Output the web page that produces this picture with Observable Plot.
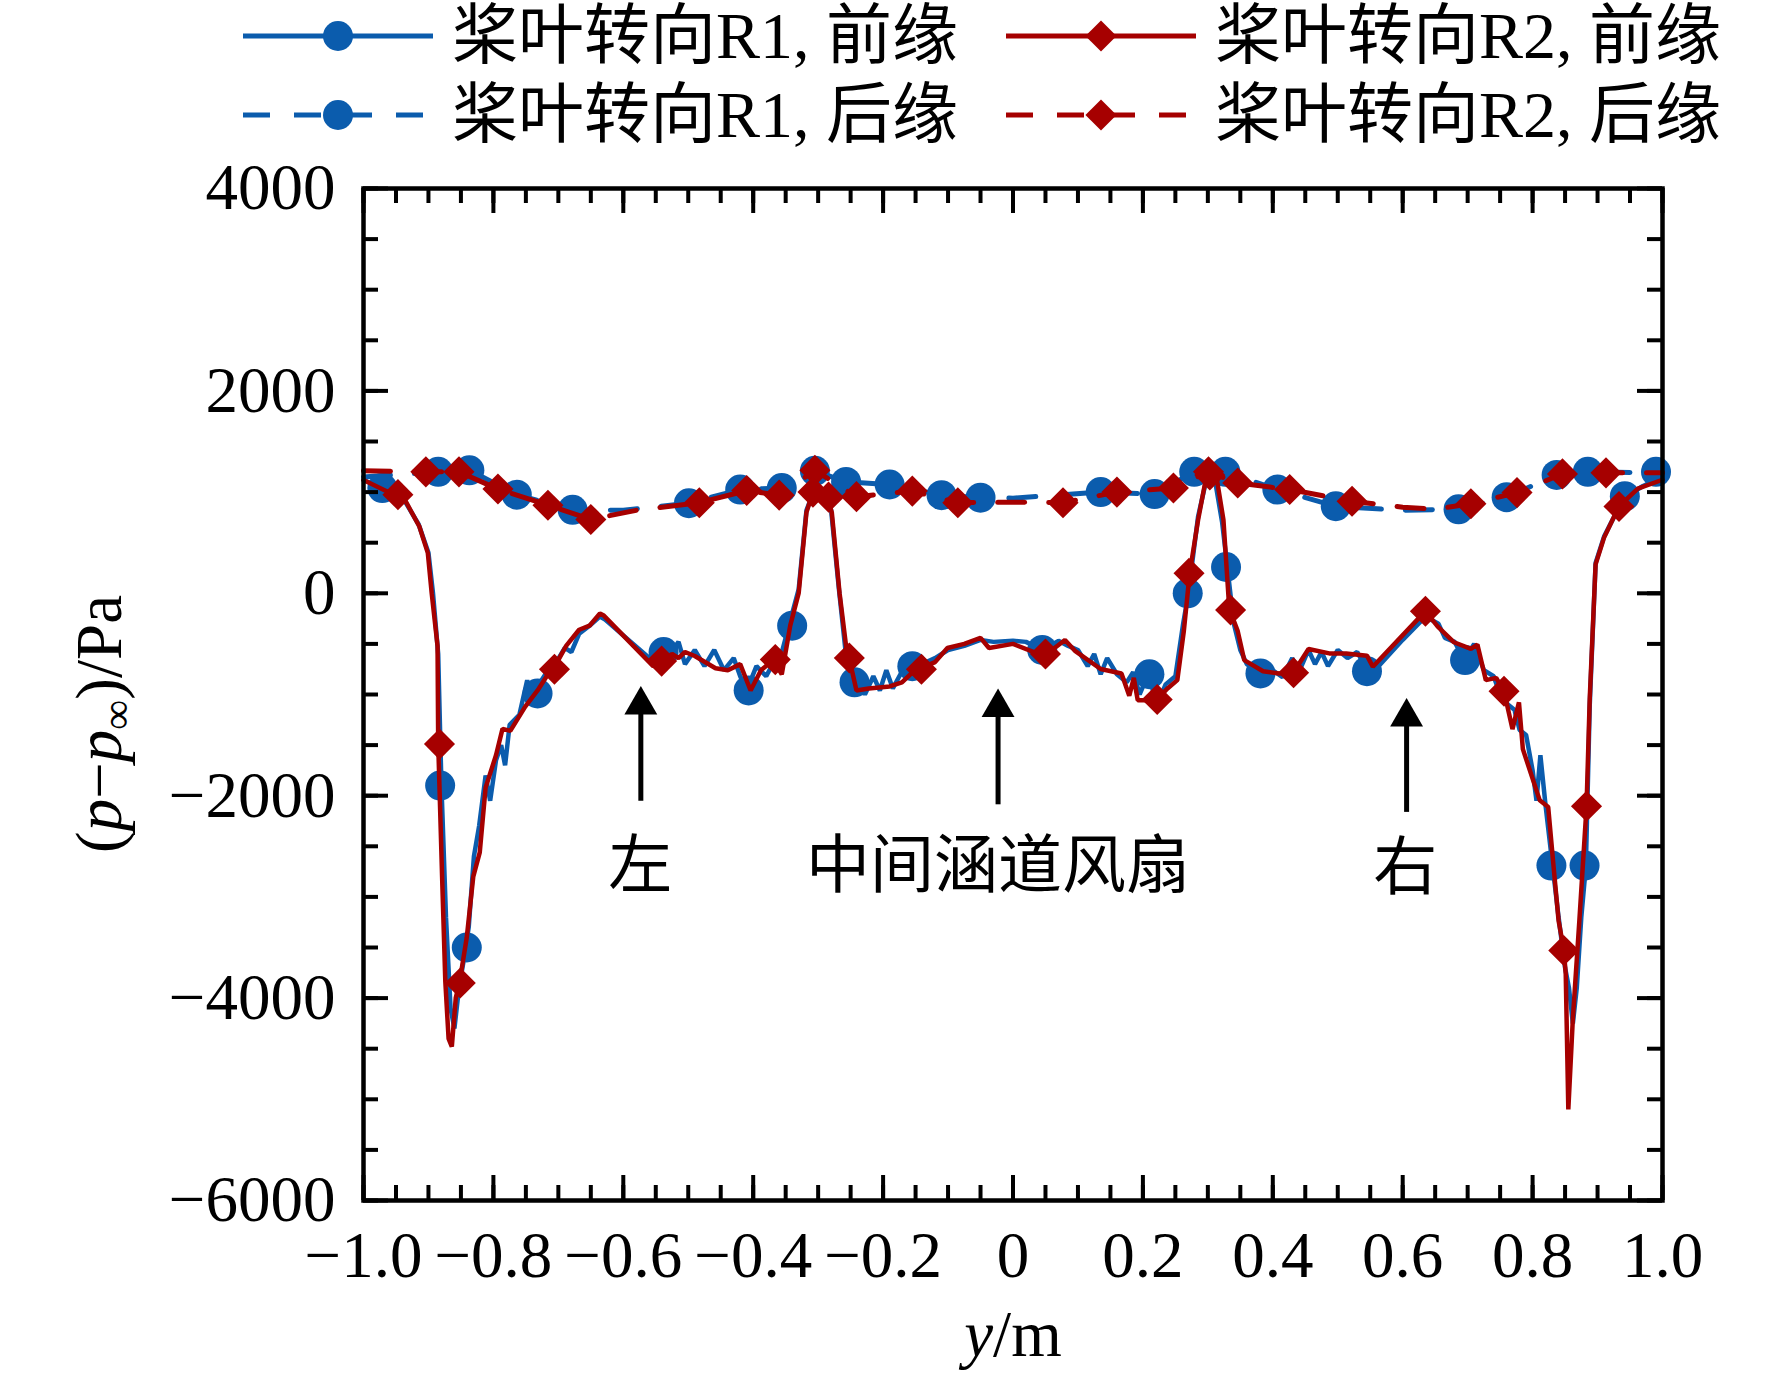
<!DOCTYPE html>
<html><head><meta charset="utf-8">
<script src="https://cdn.jsdelivr.net/npm/d3@7"></script>
<script src="https://cdn.jsdelivr.net/npm/@observablehq/plot@0.6"></script>
<style>
html,body{margin:0;padding:0;background:#fff;}
#wrap{width:1772px;height:1379px;position:relative;overflow:hidden;background:#fff;}
#legend svg,#chart svg{display:block;}
</style></head>
<body><div id="wrap"><div id="legend"></div><div id="chart"></div></div>
<script>
const blue = "#0b5cad";
const red = "#a60000";

// tick labels
const xMajorTicks = [-1, -0.8, -0.6, -0.4, -0.2, 0, 0.2, 0.4, 0.6, 0.8, 1];
const yMajorTicks = [-6000, -4000, -2000, 0, 2000, 4000];
const xMinorTicks = d3.range(-20, 21).map(i => i / 20);
const yMinorTicks = d3.range(-12, 9).map(i => i * 500);

// legend
const legendLabels = ["桨叶转向R1, 前缘", "桨叶转向R1, 后缘", "桨叶转向R2, 前缘", "桨叶转向R2, 后缘"];

// R1 leading edge (blue solid)
const r1LeadLine = [[-1.000,1120],[-0.940,950],[-0.915,680],[-0.900,400],[-0.893,0],[-0.885,-600],[-0.880,-1900],[-0.873,-3200],[-0.866,-4100],[-0.860,-4300],[-0.853,-3900],[-0.845,-3600],[-0.838,-3300],[-0.830,-2600],[-0.822,-2300],[-0.812,-1800],[-0.805,-2050],[-0.796,-1650],[-0.788,-1500],[-0.782,-1700],[-0.775,-1300],[-0.760,-1200],[-0.748,-860],[-0.740,-1050],[-0.730,-900],[-0.716,-760],[-0.705,-700],[-0.690,-540],[-0.680,-580],[-0.668,-400],[-0.652,-320],[-0.636,-230],[-0.628,-260],[-0.560,-640],[-0.545,-560],[-0.530,-620],[-0.515,-480],[-0.505,-700],[-0.490,-560],[-0.475,-720],[-0.460,-560],[-0.445,-760],[-0.430,-640],[-0.420,-820],[-0.410,-960],[-0.395,-720],[-0.380,-820],[-0.365,-640],[-0.355,-560],[-0.345,-320],[-0.330,40],[-0.318,820],[-0.305,1040],[-0.290,1000],[-0.280,820],[-0.268,40],[-0.258,-560],[-0.248,-900],[-0.238,-860],[-0.228,-1000],[-0.215,-820],[-0.205,-960],[-0.195,-760],[-0.185,-940],[-0.170,-760],[-0.155,-720],[-0.140,-700],[-0.120,-640],[-0.100,-560],[-0.075,-520],[-0.050,-460],[-0.030,-480],[0.000,-470],[0.020,-480],[0.045,-560],[0.070,-470],[0.085,-520],[0.100,-560],[0.115,-720],[0.125,-600],[0.135,-800],[0.145,-640],[0.160,-800],[0.175,-880],[0.185,-780],[0.195,-1000],[0.208,-800],[0.222,-1100],[0.235,-900],[0.250,-820],[0.262,-300],[0.270,0],[0.285,760],[0.298,1130],[0.312,1080],[0.322,700],[0.330,260],[0.340,-300],[0.350,-560],[0.360,-700],[0.380,-790],[0.400,-760],[0.415,-830],[0.430,-640],[0.440,-780],[0.455,-560],[0.465,-700],[0.475,-580],[0.485,-720],[0.500,-560],[0.515,-640],[0.530,-580],[0.545,-760],[0.560,-740],[0.600,-460],[0.635,-230],[0.655,-300],[0.665,-440],[0.680,-480],[0.695,-660],[0.710,-500],[0.725,-760],[0.740,-820],[0.750,-1000],[0.762,-1100],[0.772,-1150],[0.780,-1350],[0.790,-1400],[0.800,-1750],[0.806,-2050],[0.812,-1600],[0.820,-2100],[0.830,-2650],[0.840,-3200],[0.850,-3700],[0.856,-3900],[0.862,-4250],[0.868,-3900],[0.875,-3200],[0.882,-2700],[0.888,-1100],[0.897,300],[0.910,560],[0.940,940],[0.970,1060],[1.000,1150]];
const r1LeadMarks = [[-0.971,1040],[-0.882,-1900],[-0.841,-3500],[-0.732,-990],[-0.538,-580],[-0.407,-960],[-0.340,-320],[-0.244,-880],[-0.155,-720],[0.045,-560],[0.210,-800],[0.269,0],[0.328,260],[0.381,-792],[0.545,-770],[0.696,-660],[0.829,-2690],[0.880,-2690],[0.942,960]];

// R1 trailing edge (blue dashed)
const r1TrailLine = [[-1.000,1150],[-0.885,1200],[-0.837,1215],[-0.764,975],[-0.678,825],[-0.600,820],[-0.499,890],[-0.420,1025],[-0.356,1040],[-0.305,1210],[-0.257,1100],[-0.190,1075],[-0.110,970],[-0.050,945],[0.000,940],[0.135,1000],[0.218,980],[0.279,1200],[0.327,1200],[0.407,1025],[0.497,860],[0.600,820],[0.686,830],[0.760,950],[0.837,1170],[0.885,1200],[0.987,1190],[1.000,1190]];
const r1TrailMarks = [[-0.885,1200],[-0.837,1215],[-0.764,975],[-0.678,825],[-0.499,890],[-0.420,1025],[-0.356,1040],[-0.305,1210],[-0.257,1100],[-0.190,1075],[-0.110,970],[-0.050,945],[0.135,1000],[0.218,980],[0.279,1200],[0.327,1200],[0.407,1025],[0.497,860],[0.686,830],[0.760,950],[0.837,1170],[0.885,1200],[0.990,1200]];

// R2 leading edge (red solid)
const r2LeadLine = [[-1.000,1120],[-0.936,920],[-0.914,660],[-0.901,400],[-0.895,0],[-0.886,-520],[-0.885,-1480],[-0.879,-2800],[-0.874,-3840],[-0.869,-4400],[-0.864,-4480],[-0.858,-4000],[-0.852,-3840],[-0.841,-3400],[-0.831,-2800],[-0.821,-2560],[-0.812,-1920],[-0.796,-1600],[-0.786,-1340],[-0.774,-1360],[-0.751,-1120],[-0.732,-960],[-0.716,-800],[-0.707,-740],[-0.688,-520],[-0.668,-360],[-0.652,-320],[-0.636,-200],[-0.630,-220],[-0.554,-720],[-0.541,-680],[-0.525,-600],[-0.515,-640],[-0.505,-580],[-0.490,-620],[-0.458,-740],[-0.439,-760],[-0.420,-700],[-0.404,-960],[-0.388,-760],[-0.369,-660],[-0.356,-800],[-0.343,-320],[-0.330,0],[-0.318,800],[-0.308,1000],[-0.298,1000],[-0.286,940],[-0.279,800],[-0.267,0],[-0.257,-520],[-0.253,-620],[-0.241,-960],[-0.222,-940],[-0.190,-920],[-0.171,-880],[-0.158,-800],[-0.142,-740],[-0.120,-680],[-0.101,-540],[-0.075,-500],[-0.050,-440],[-0.037,-540],[0.000,-500],[0.048,-620],[0.080,-462],[0.096,-572],[0.135,-748],[0.167,-792],[0.179,-1012],[0.186,-836],[0.192,-1056],[0.221,-1056],[0.237,-946],[0.253,-858],[0.263,-374],[0.272,198],[0.285,726],[0.298,1166],[0.304,1188],[0.314,1122],[0.324,726],[0.333,-154],[0.346,-374],[0.356,-660],[0.385,-770],[0.410,-792],[0.433,-770],[0.455,-550],[0.487,-594],[0.513,-594],[0.545,-616],[0.554,-726],[0.635,-176],[0.654,-330],[0.679,-484],[0.705,-550],[0.715,-506],[0.728,-858],[0.744,-836],[0.756,-968],[0.769,-1342],[0.779,-1078],[0.785,-1540],[0.811,-2046],[0.824,-2112],[0.833,-2750],[0.840,-3234],[0.848,-3520],[0.851,-3760],[0.855,-5100],[0.862,-4200],[0.872,-3234],[0.883,-2112],[0.888,-1034],[0.897,286],[0.910,550],[0.933,858],[0.962,1034],[1.000,1122]];
const r2LeadMarks = [[-0.947,975],[-0.883,-1490],[-0.851,-3850],[-0.706,-750],[-0.541,-670],[-0.366,-655],[-0.308,1000],[-0.284,950],[-0.252,-640],[-0.141,-750],[0.050,-600],[0.222,-1050],[0.271,198],[0.303,1170],[0.335,-165],[0.432,-785],[0.635,-178],[0.756,-968],[0.848,-3530],[0.883,-2105],[0.933,858]];

// R2 trailing edge (red dashed)
const r2TrailLine = [[-1.000,1210],[-0.904,1200],[-0.853,1200],[-0.793,1030],[-0.716,870],[-0.650,730],[-0.580,820],[-0.483,895],[-0.410,1015],[-0.360,970],[-0.305,1215],[-0.241,955],[-0.155,1010],[-0.085,895],[0.000,900],[0.077,895],[0.160,1000],[0.247,1040],[0.301,1200],[0.346,1090],[0.426,1025],[0.522,910],[0.600,850],[0.650,830],[0.705,885],[0.776,995],[0.846,1180],[0.913,1190],[1.000,1190]];
const r2TrailMarks = [[-0.904,1200],[-0.853,1200],[-0.793,1030],[-0.716,870],[-0.650,730],[-0.483,895],[-0.410,1015],[-0.360,970],[-0.305,1215],[-0.241,955],[-0.155,1010],[-0.085,895],[0.077,895],[0.160,1000],[0.247,1040],[0.301,1200],[0.346,1090],[0.426,1025],[0.522,910],[0.705,885],[0.776,995],[0.846,1180],[0.913,1190]];

// annotations
const annoText = ["左", "中间涵道风扇", "右"];
const annoX = [-0.574, -0.023, 0.604];
const annoY = [-2660, -2660, -2680];
const arrowX = [-0.573, -0.023, 0.606];
const arrowTip = [-915, -940, -1035];
const arrowShaftTop = [-1150, -1175, -1270];
const arrowTail = [-2050, -2085, -2160];

const W = 1299, H = 1012;
const fmtX = d => d === 0 ? "0" : d3.format(".1f")(d);
const fmtY = d => d3.format("d")(d);
const xy = {x: d => d[0], y: d => d[1]};
const dash = "27,24";

// ---------- legend ----------
const leg = d3.select("#legend").append("svg").attr("width", 1772).attr("height", 160);
const legCols = [243, 1006], legRows = [36, 115];
const legendItems = [
  {label: legendLabels[0], color: blue, dashed: false, sym: d3.symbolCircle, r: 15, col: 0, row: 0},
  {label: legendLabels[1], color: blue, dashed: true, sym: d3.symbolCircle, r: 15, col: 0, row: 1},
  {label: legendLabels[2], color: red, dashed: false, sym: d3.symbolDiamond2, r: 14, col: 1, row: 0},
  {label: legendLabels[3], color: red, dashed: true, sym: d3.symbolDiamond2, r: 14, col: 1, row: 1}
];
for (const it of legendItems) {
  const x0 = legCols[it.col], y0 = legRows[it.row];
  leg.append("line").attr("x1", x0).attr("x2", x0 + 190).attr("y1", y0).attr("y2", y0)
    .attr("stroke", it.color).attr("stroke-width", 5)
    .attr("stroke-dasharray", it.dashed ? dash : null);
  leg.append("path").attr("d", d3.symbol(it.sym, Math.PI * it.r * it.r)())
    .attr("transform", `translate(${x0 + 95},${y0})`).attr("fill", it.color);
  leg.append("text").attr("x", x0 + 209).attr("y", y0 + 22)
    .attr("font-family", "'Liberation Serif','Noto Sans CJK SC',serif")
    .attr("font-size", 66).attr("fill", "black").text(it.label);
}

// ---------- chart ----------
const chart = Plot.plot({
  width: 1772, height: 1219,
  marginTop: 28, marginBottom: 179, marginLeft: 363, marginRight: 110,
  x: {domain: [-1, 1]},
  y: {domain: [-6000, 4000]},
  style: {fontFamily: "'Liberation Serif', serif", fontSize: "65px", color: "black", background: "white", overflow: "visible"},
  marks: [
    Plot.axisX(xMajorTicks, {tickSize: 0, tickPadding: 30, tickFormat: fmtX, label: null, fontSize: 65}),
    Plot.axisY(yMajorTicks, {tickSize: 0, tickPadding: 28, tickFormat: fmtY, label: null, fontSize: 65}),
    // annotations
    Plot.link(arrowX, {x1: d => d, x2: d => d, y1: (d, i) => arrowTail[i], y2: (d, i) => arrowShaftTop[i], stroke: "black", strokeWidth: 5}),
    Plot.dot(arrowX, {x: d => d, y: (d, i) => arrowTip[i], symbol: "triangle", r: 12.2, fill: "black", dy: 19}),
    Plot.text(annoText, {x: (d, i) => annoX[i], y: (d, i) => annoY[i], text: d => d, fontFamily: "'Noto Sans CJK SC', sans-serif", fontSize: 64, fill: "black", dy: 4}),
    // R1 (blue)
    Plot.line(r1TrailLine, {...xy, stroke: blue, strokeWidth: 5, strokeDasharray: dash, strokeLinejoin: "miter"}),
    Plot.line(r1LeadLine, {...xy, stroke: blue, strokeWidth: 4.5, strokeLinejoin: "miter"}),
    Plot.dot(r1TrailMarks, {...xy, r: 15, fill: blue, symbol: "circle"}),
    Plot.dot(r1LeadMarks, {...xy, r: 15, fill: blue, symbol: "circle"}),
    // R2 (red)
    Plot.line(r2TrailLine, {...xy, stroke: red, strokeWidth: 5, strokeDasharray: dash, strokeLinejoin: "miter"}),
    Plot.line(r2LeadLine, {...xy, stroke: red, strokeWidth: 4.5, strokeLinejoin: "miter"}),
    Plot.dot(r2TrailMarks, {...xy, r: 14, fill: red, symbol: "diamond2"}),
    Plot.dot(r2LeadMarks, {...xy, r: 14, fill: red, symbol: "diamond2"}),
    // inward ticks on all four sides
    Plot.tickX(xMinorTicks, {x: d => d, insetTop: H - 15, stroke: "black", strokeWidth: 4}),
    Plot.tickX(xMinorTicks, {x: d => d, insetBottom: H - 15, stroke: "black", strokeWidth: 4}),
    Plot.tickX(xMajorTicks, {x: d => d, insetTop: H - 25, stroke: "black", strokeWidth: 4}),
    Plot.tickX(xMajorTicks, {x: d => d, insetBottom: H - 25, stroke: "black", strokeWidth: 4}),
    Plot.tickY(yMinorTicks, {y: d => d, insetRight: W - 15, stroke: "black", strokeWidth: 4}),
    Plot.tickY(yMinorTicks, {y: d => d, insetLeft: W - 15, stroke: "black", strokeWidth: 4}),
    Plot.tickY(yMajorTicks, {y: d => d, insetRight: W - 25, stroke: "black", strokeWidth: 4}),
    Plot.tickY(yMajorTicks, {y: d => d, insetLeft: W - 25, stroke: "black", strokeWidth: 4}),
    Plot.frame({stroke: "black", strokeWidth: 4.5})
  ]
});
document.getElementById("chart").appendChild(chart);

// axis titles with italic / subscript parts
const svg = d3.select(chart);
const ylab = svg.append("text")
  .attr("transform", "translate(121,564) rotate(-90)")
  .attr("text-anchor", "middle")
  .attr("font-family", "'Liberation Serif', serif").attr("font-size", 65).attr("fill", "black");
ylab.append("tspan").text("(");
ylab.append("tspan").attr("font-style", "italic").text("p");
ylab.append("tspan").text("−");
ylab.append("tspan").attr("font-style", "italic").text("p");
ylab.append("tspan").attr("font-size", 42).attr("dy", 10).text("∞");
ylab.append("tspan").attr("dy", -10).text(")/Pa");

const xlab = svg.append("text")
  .attr("x", 1013).attr("y", 1196)
  .attr("text-anchor", "middle")
  .attr("font-family", "'Liberation Serif', serif").attr("font-size", 65).attr("fill", "black");
xlab.append("tspan").attr("font-style", "italic").text("y");
xlab.append("tspan").text("/m");
</script>
</body></html>
